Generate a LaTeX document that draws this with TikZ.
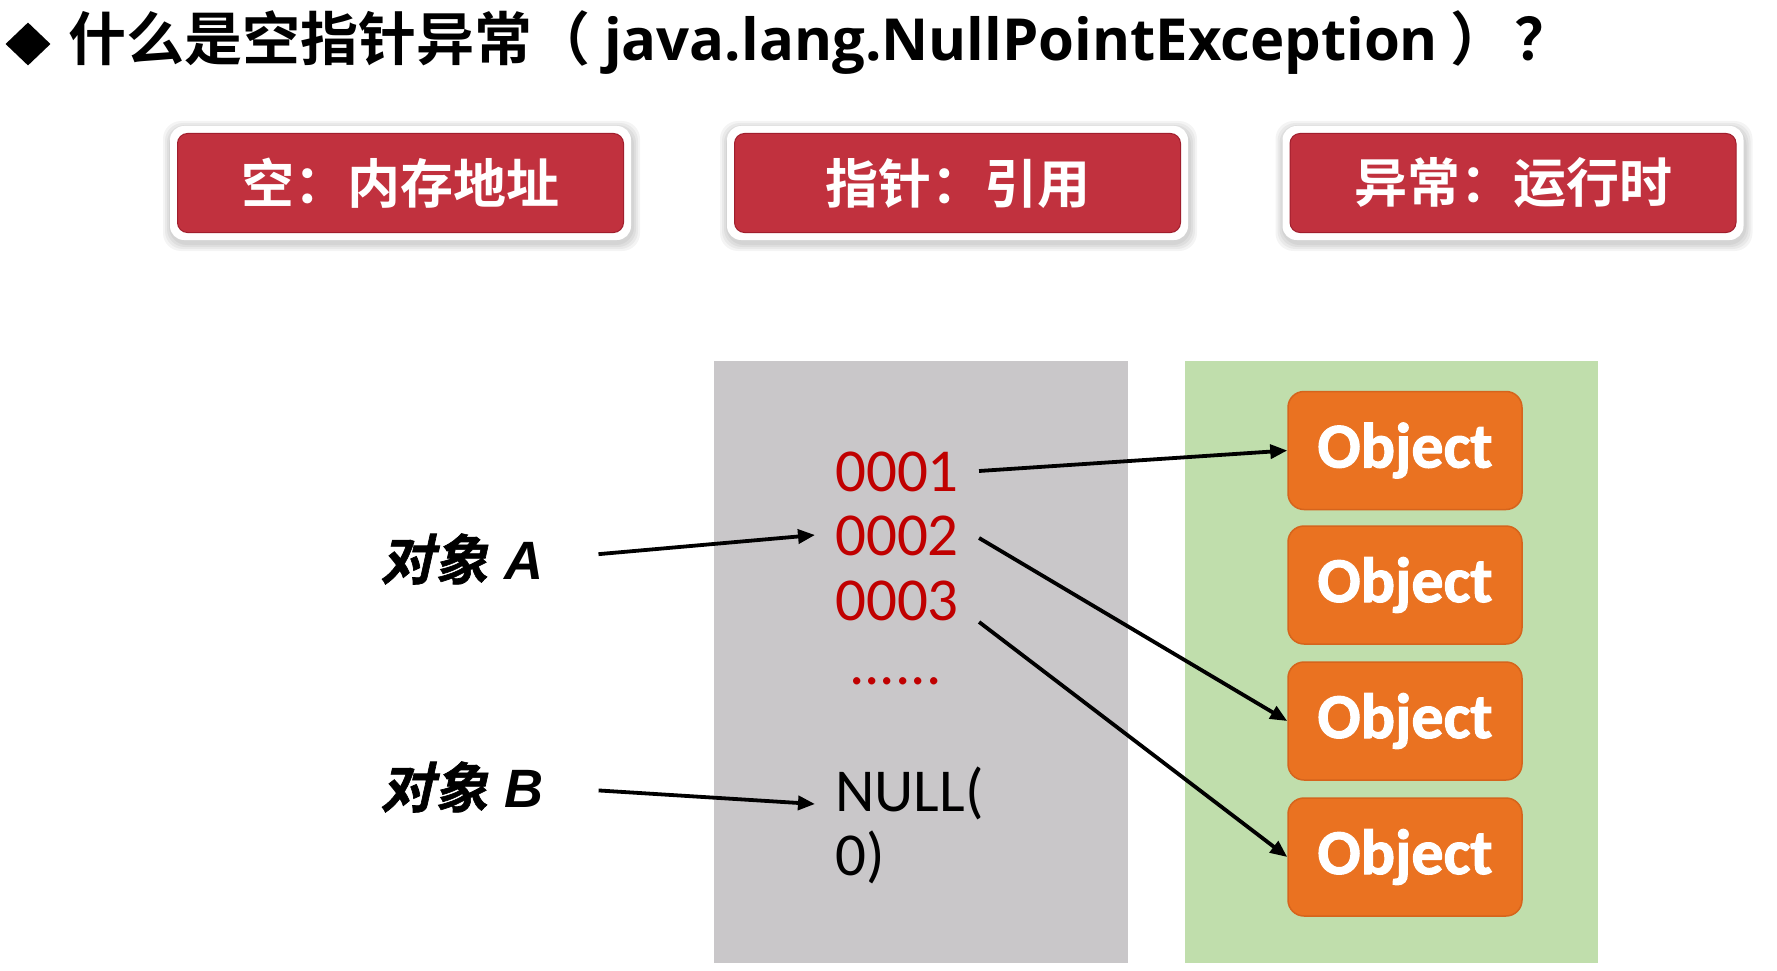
\documentclass[tikz,border=0pt]{standalone}
\usepackage{fontspec}
\usetikzlibrary{arrows.meta,shapes.geometric,backgrounds}
\newfontfamily\cjkb{Noto Sans CJK SC Bold}
\newfontfamily\cjkbi{Noto Sans CJK SC Bold}[FakeSlant=0.22, FakeBold=1.2]
\newfontfamily\latb{Open Sans}
\newfontfamily\carl{Carlito}
\newfontfamily\carlb{Carlito}[BoldFeatures={FakeBold=1.6}]
\newfontfamily\lsans{Liberation Sans}
\definecolor{boxred}{RGB}{193,49,62}
\definecolor{boxedge}{RGB}{160,30,45}
\definecolor{grayarea}{RGB}{201,199,201}
\definecolor{greenarea}{RGB}{192,222,172}
\definecolor{objor}{RGB}{234,114,33}
\definecolor{objbd}{RGB}{214,100,28}
\definecolor{numred}{RGB}{192,0,0}
\tikzset{
  topbox/.style={fill=boxred, draw=boxedge, line width=1pt, rounded corners=10pt,
    minimum width=446pt, minimum height=99pt, text=white, inner sep=0pt,
    font=\cjkb\fontsize{53pt}{56pt}\selectfont},
  objbox/.style={fill=objor, draw=objbd, line width=1.5pt, rounded corners=16pt,
    minimum width=234pt, minimum height=118pt, text=white, inner sep=0pt,
    font=\carlb\bfseries\fontsize{64pt}{68pt}\selectfont},
  addr/.style={anchor=base west, inner xsep=20pt, inner ysep=0pt, text height=40pt,
    text depth=0pt, text=numred, font=\carl\fontsize{61pt}{64pt}\selectfont},
  nulltext/.style={addr, text=black},
  objlabel/.style={inner sep=0pt, font=\fontsize{54pt}{58pt}\selectfont},
  arr/.style={-{Triangle[length=17pt,width=14pt]}, line width=3.8pt, black},
}
\begin{document}
\begin{tikzpicture}[x=1pt,y=-1pt]
\useasboundingbox (0,0) rectangle (1777,971);
% title
\node[diamond, fill=black, inner sep=0pt, minimum width=45pt, minimum height=43pt] (dia) at (28,44) {};
\node[anchor=west, inner sep=0pt, font=\cjkb\fontsize{58pt}{62pt}\selectfont] (title) at (68,43)
  {什么是空指针异常（\hspace{14pt}{\latb\bfseries\fontsize{58pt}{62pt}\selectfont java.lang.NullPointException}\hspace{12pt}）\hspace{6pt}？};
% top boxes
\node[topbox] (b1) at (400.5,183) {空：内存地址};
\node[topbox] (b2) at (957.5,183) {指针：引用};
\node[topbox] (b3) at (1513,183) {异常：运行时};
% areas
\fill[grayarea] (714,361) rectangle (1128,963);
\fill[greenarea] (1185,361) rectangle (1598,963);
% objects
\node[objbox] (o1) at (1405,450.5) {Object};
\node[objbox] (o2) at (1405,585) {Object};
\node[objbox] (o3) at (1405,721) {Object};
\node[objbox] (o4) at (1405,857) {Object};
% addresses
\node[addr] (d1) at (815,491) {0001};
\node[addr] (d2) at (815,555) {0002};
\node[addr] (d3) at (815,620) {0003};
\node[addr] (dots) at (829,684) {......};
\node[nulltext] (n1) at (815,811) {NULL(};
\node[nulltext] (n2) at (815,875) {0)};
% labels
\node[objlabel, anchor=west] (oa) at (380,559) {{\cjkbi 对象} {\lsans\bfseries\itshape A}};
\node[objlabel, anchor=west] (ob) at (380,787) {{\cjkbi 对象} {\lsans\bfseries\itshape B}};
% arrows
\draw[arr, shorten <=55pt] (oa.east) -- (d2.west);
\draw[arr, shorten <=55pt] (ob.east) -- ([yshift=-13pt]n1.west);
\draw[arr] (d1.east) -- (o1.west);
\draw[arr] ([yshift=-3pt]d2.east) -- (o3.west);
\draw[arr] ([yshift=-22pt]d3.east) -- (o4.west);
% background, glow and white frame of top boxes
\begin{pgfonlayer}{background}
\fill[white] (0,0) rectangle (1777,971);
\foreach \b in {b1,b2,b3}{
  \foreach \i in {15,13,11,9}{
    \fill[black, opacity=0.045, rounded corners=18pt]
      ([shift={(-\i+1,-\i+3)}]\b.north west) rectangle ([shift={(\i+1,\i+3)}]\b.south east);
  }
  \fill[white, rounded corners=14pt]
    ([shift={(-7,-7)}]\b.north west) rectangle ([shift={(7,7)}]\b.south east);
}
\end{pgfonlayer}
\end{tikzpicture}
\end{document}
